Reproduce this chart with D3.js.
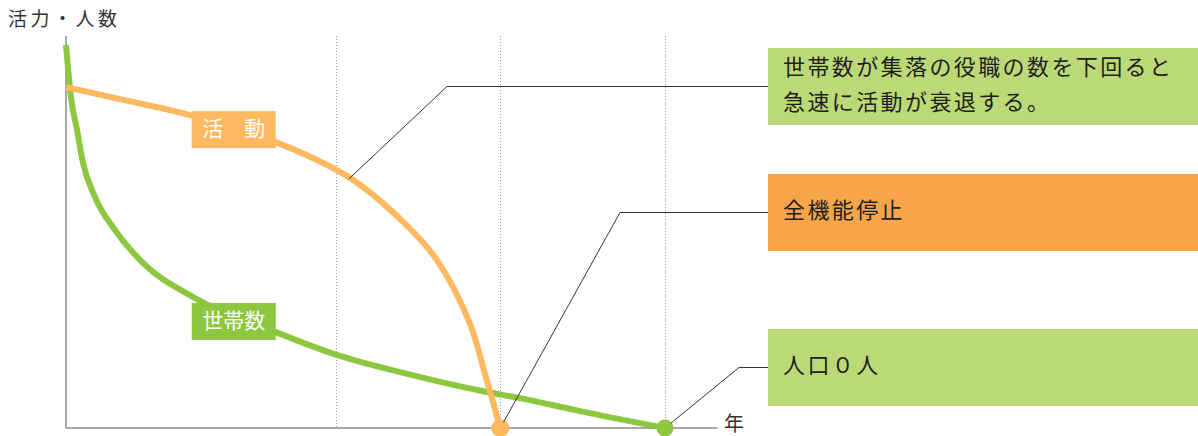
<!DOCTYPE html>
<html>
<head>
<meta charset="utf-8">
<script src="https://cdn.jsdelivr.net/npm/d3@7"></script>
<style>
  body { margin: 0; background: #fff; }
  text { font-family: "Noto Sans CJK JP", "Noto Sans", sans-serif; }
</style>
</head>
<body>
<div class="chart"></div>
<script>
// values (x: time 0-100, y: level 0-100)
var householdX = [0, 0.83, 1.84, 2.84, 4.84, 8.18, 12.85, 21.2, 34.9, 45.2, 56.3, 70.3, 75.8, 85.8, 100];
var householdY = [100, 86.4, 77.8, 69.2, 60.3, 51.7, 43.1, 34.2, 25.1, 19.1, 14.4, 9.4, 7.8, 4.4, 0];

var activityX = [0, 10.35, 20.7, 34.9, 47.4, 56.3, 61.9, 67.4, 69.95, 72.5];
var activityY = [89.0, 85.4, 81.7, 74.7, 65.3, 53.8, 43.9, 27.4, 14.1, 0];

var gridX = [45, 72.5, 100];

var yTitle = "活力・人数";
var xTitle = "年";
var seriesNames = ["活　動", "世帯数"];
var seriesLabelX = [28, 28];
var seriesLabelY = [77.9, 27.8];

var noteLines = [["世帯数が集落の役職の数を下回ると", "急速に活動が衰退する。"], ["全機能停止"], ["人口０人"]];
var noteAnchorX = [47.2, 72.5, 100];
var noteAnchorY = [65.0, 0, 0];

var svgWidth = 1198;
var svgHeight = 436;

var orange = "#fdb960";
var green = "#8dc63f";
var noteFill = ["#bcd977", "#f8a54a", "#bcd977"];

var x = d3.scaleLinear().domain([0, 100]).range([66, 665]);
var y = d3.scaleLinear().domain([0, 100]).range([428, 45]);

var svg = d3.select(".chart").append("svg")
  .attr("width", svgWidth)
  .attr("height", svgHeight);

// dotted guides
svg.selectAll(".grid").data(gridX).enter().append("line")
  .attr("x1", function(d) { return Math.round(x(d)) + 0.5; })
  .attr("x2", function(d) { return Math.round(x(d)) + 0.5; })
  .attr("y1", 36).attr("y2", y(0))
  .attr("stroke", "#9a9a9a").attr("stroke-width", 1)
  .attr("stroke-dasharray", "1,2");

// axes (plain lines, no ticks)
svg.append("line").attr("x1", x(0)).attr("x2", x(0)).attr("y1", 36).attr("y2", y(0))
  .attr("stroke", "#a8a8a8").attr("stroke-width", 2);
svg.append("line").attr("x1", x(0)).attr("x2", x(108.8)).attr("y1", y(0)).attr("y2", y(0))
  .attr("stroke", "#a8a8a8").attr("stroke-width", 2);

svg.append("text").attr("x", 8).attr("y", 26)
  .attr("font-size", 19).attr("letter-spacing", 3.5).attr("fill", "#333").text(yTitle);
svg.append("text").attr("x", 724).attr("y", 431)
  .attr("font-size", 20).attr("fill", "#333").text(xTitle);

function lineWith(curve) {
  return d3.line()
    .x(function(d) { return x(d[0]); })
    .y(function(d) { return y(d[1]); })
    .curve(curve);
}

var activity = d3.zip(activityX, activityY);
var household = d3.zip(householdX, householdY);

svg.append("path").datum(household).attr("d", lineWith(d3.curveMonotoneX))
  .attr("fill", "none").attr("stroke", green).attr("stroke-width", 6);
svg.append("path").datum(activity).attr("d", lineWith(d3.curveCatmullRom.alpha(0.5)))
  .attr("fill", "none").attr("stroke", orange).attr("stroke-width", 6);

// end points
svg.append("circle").attr("cx", x(72.5)).attr("cy", y(0)).attr("r", 9).attr("fill", orange);
svg.append("circle").attr("cx", x(100)).attr("cy", y(0)).attr("r", 8.5).attr("fill", green);

// series labels
var labelFill = [orange, green];
seriesNames.forEach(function(name, i) {
  var cx = x(seriesLabelX[i]), cy = y(seriesLabelY[i]);
  svg.append("rect").attr("x", cx - 42).attr("y", cy - 18.5)
    .attr("width", 84).attr("height", 37).attr("fill", labelFill[i]);
  svg.append("text").attr("x", cx).attr("y", cy + 1)
    .attr("text-anchor", "middle").attr("dominant-baseline", "middle")
    .attr("font-size", 21).attr("fill", "#fff").text(name);
});

// callouts
var boxLeft = 768;
var boxMid = [86.5, 212.5, 367.5];
var elbowX = [447, 620, 739];
var startGap = [0, 6.5, 7.5];

noteLines.forEach(function(lines, i) {
  var ax = x(noteAnchorX[i]), ay = y(noteAnchorY[i]);
  var dx = elbowX[i] - ax, dy = boxMid[i] - ay;
  var len = Math.sqrt(dx * dx + dy * dy);
  var sx = ax + dx / len * startGap[i], sy = ay + dy / len * startGap[i];
  svg.append("polyline")
    .attr("points", [[sx, sy], [elbowX[i], boxMid[i]], [boxLeft, boxMid[i]]].join(" "))
    .attr("fill", "none").attr("stroke", "#333").attr("stroke-width", 1);

  svg.append("rect").attr("x", boxLeft).attr("y", boxMid[i] - 38.5)
    .attr("width", svgWidth - boxLeft).attr("height", 77).attr("fill", noteFill[i]);

  var lh = 35;
  lines.forEach(function(t, j) {
    svg.append("text").attr("x", 783)
      .attr("y", boxMid[i] + (j - (lines.length - 1) / 2) * lh)
      .attr("dominant-baseline", "middle")
      .attr("font-size", 22).attr("letter-spacing", 2.4).attr("fill", "#231f20").text(t);
  });
});
</script>
</body>
</html>
